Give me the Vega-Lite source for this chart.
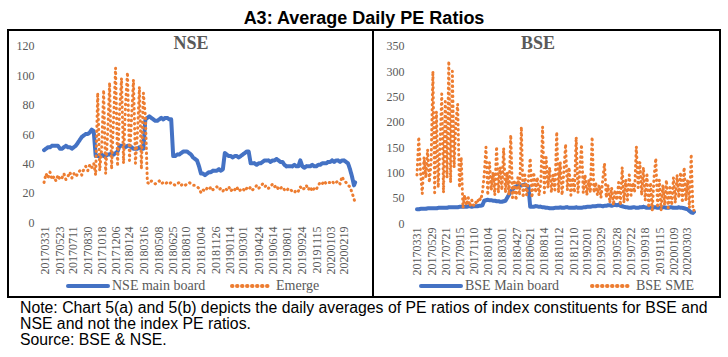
{
"$schema": "https://vega.github.io/schema/vega-lite/v6.json",
"padding": {"left": 7, "top": 7, "right": 0, "bottom": 0},
"background": "white",
"datasets": {"pe": [
{"d":"2017-03-31","NSE main board":49,"Emerge":27,"BSE Main board":27,"BSE SME":95},
{"d":"2017-04-07","NSE main board":50,"Emerge":33,"BSE Main board":27,"BSE SME":170},
{"d":"2017-04-14","NSE main board":51,"Emerge":30,"BSE Main board":28,"BSE SME":100},
{"d":"2017-04-21","NSE main board":51,"Emerge":34,"BSE Main board":28,"BSE SME":58},
{"d":"2017-04-28","NSE main board":52,"Emerge":29,"BSE Main board":28,"BSE SME":130},
{"d":"2017-05-05","NSE main board":52,"Emerge":31,"BSE Main board":28,"BSE SME":90},
{"d":"2017-05-12","NSE main board":52,"Emerge":28,"BSE Main board":29,"BSE SME":145},
{"d":"2017-05-19","NSE main board":52,"Emerge":32,"BSE Main board":29,"BSE SME":80},
{"d":"2017-05-26","NSE main board":50,"Emerge":29,"BSE Main board":29,"BSE SME":120},
{"d":"2017-06-02","NSE main board":50,"Emerge":30,"BSE Main board":29,"BSE SME":300},
{"d":"2017-06-09","NSE main board":51,"Emerge":33,"BSE Main board":29,"BSE SME":60},
{"d":"2017-06-16","NSE main board":52,"Emerge":29,"BSE Main board":29,"BSE SME":220},
{"d":"2017-06-23","NSE main board":51,"Emerge":31,"BSE Main board":30,"BSE SME":70},
{"d":"2017-06-30","NSE main board":51,"Emerge":34,"BSE Main board":30,"BSE SME":150},
{"d":"2017-07-07","NSE main board":50,"Emerge":30,"BSE Main board":30,"BSE SME":255},
{"d":"2017-07-14","NSE main board":51,"Emerge":33,"BSE Main board":30,"BSE SME":60},
{"d":"2017-07-21","NSE main board":52,"Emerge":31,"BSE Main board":30,"BSE SME":240},
{"d":"2017-07-28","NSE main board":54,"Emerge":33,"BSE Main board":30,"BSE SME":90},
{"d":"2017-08-04","NSE main board":56,"Emerge":35,"BSE Main board":31,"BSE SME":320},
{"d":"2017-08-11","NSE main board":58,"Emerge":32,"BSE Main board":31,"BSE SME":80},
{"d":"2017-08-18","NSE main board":59,"Emerge":36,"BSE Main board":31,"BSE SME":300},
{"d":"2017-08-25","NSE main board":60,"Emerge":38,"BSE Main board":31,"BSE SME":110},
{"d":"2017-09-01","NSE main board":60,"Emerge":35,"BSE Main board":31,"BSE SME":200},
{"d":"2017-09-08","NSE main board":61,"Emerge":39,"BSE Main board":31,"BSE SME":235},
{"d":"2017-09-15","NSE main board":63,"Emerge":37,"BSE Main board":32,"BSE SME":70},
{"d":"2017-09-22","NSE main board":62,"Emerge":40,"BSE Main board":32,"BSE SME":130},
{"d":"2017-09-29","NSE main board":45,"Emerge":32,"BSE Main board":32,"BSE SME":30},
{"d":"2017-10-06","NSE main board":45,"Emerge":88,"BSE Main board":32,"BSE SME":55},
{"d":"2017-10-13","NSE main board":45,"Emerge":35,"BSE Main board":32,"BSE SME":35},
{"d":"2017-10-20","NSE main board":46,"Emerge":50,"BSE Main board":33,"BSE SME":50},
{"d":"2017-10-27","NSE main board":45,"Emerge":90,"BSE Main board":33,"BSE SME":33},
{"d":"2017-11-03","NSE main board":45,"Emerge":33,"BSE Main board":32,"BSE SME":45},
{"d":"2017-11-10","NSE main board":46,"Emerge":60,"BSE Main board":33,"BSE SME":35},
{"d":"2017-11-17","NSE main board":46,"Emerge":95,"BSE Main board":33,"BSE SME":42},
{"d":"2017-11-24","NSE main board":47,"Emerge":36,"BSE Main board":33,"BSE SME":38},
{"d":"2017-12-01","NSE main board":46,"Emerge":70,"BSE Main board":34,"BSE SME":50},
{"d":"2017-12-08","NSE main board":47,"Emerge":105,"BSE Main board":34,"BSE SME":45},
{"d":"2017-12-15","NSE main board":48,"Emerge":38,"BSE Main board":35,"BSE SME":60},
{"d":"2017-12-22","NSE main board":52,"Emerge":75,"BSE Main board":44,"BSE SME":95},
{"d":"2017-12-29","NSE main board":52,"Emerge":98,"BSE Main board":45,"BSE SME":150},
{"d":"2018-01-05","NSE main board":52,"Emerge":40,"BSE Main board":46,"BSE SME":55},
{"d":"2018-01-12","NSE main board":51,"Emerge":80,"BSE Main board":45,"BSE SME":120},
{"d":"2018-01-19","NSE main board":52,"Emerge":102,"BSE Main board":45,"BSE SME":65},
{"d":"2018-01-26","NSE main board":52,"Emerge":42,"BSE Main board":44,"BSE SME":100},
{"d":"2018-02-02","NSE main board":51,"Emerge":70,"BSE Main board":44,"BSE SME":55},
{"d":"2018-02-09","NSE main board":50,"Emerge":97,"BSE Main board":43,"BSE SME":151},
{"d":"2018-02-16","NSE main board":50,"Emerge":40,"BSE Main board":43,"BSE SME":60},
{"d":"2018-02-23","NSE main board":50,"Emerge":60,"BSE Main board":42,"BSE SME":110},
{"d":"2018-03-02","NSE main board":51,"Emerge":92,"BSE Main board":42,"BSE SME":65},
{"d":"2018-03-09","NSE main board":50,"Emerge":36,"BSE Main board":43,"BSE SME":148},
{"d":"2018-03-16","NSE main board":50,"Emerge":88,"BSE Main board":44,"BSE SME":60},
{"d":"2018-03-23","NSE main board":70,"Emerge":72,"BSE Main board":50,"BSE SME":100},
{"d":"2018-03-30","NSE main board":71,"Emerge":27,"BSE Main board":56,"BSE SME":55},
{"d":"2018-04-06","NSE main board":72,"Emerge":26,"BSE Main board":62,"BSE SME":174},
{"d":"2018-04-13","NSE main board":71,"Emerge":28,"BSE Main board":66,"BSE SME":50},
{"d":"2018-04-20","NSE main board":70,"Emerge":27,"BSE Main board":70,"BSE SME":85},
{"d":"2018-04-27","NSE main board":69,"Emerge":26,"BSE Main board":72,"BSE SME":45},
{"d":"2018-05-04","NSE main board":69,"Emerge":27,"BSE Main board":74,"BSE SME":90},
{"d":"2018-05-11","NSE main board":70,"Emerge":28,"BSE Main board":75,"BSE SME":55},
{"d":"2018-05-18","NSE main board":71,"Emerge":26,"BSE Main board":74,"BSE SME":190},
{"d":"2018-05-25","NSE main board":70,"Emerge":27,"BSE Main board":75,"BSE SME":50},
{"d":"2018-06-01","NSE main board":71,"Emerge":26,"BSE Main board":76,"BSE SME":95},
{"d":"2018-06-08","NSE main board":71,"Emerge":27,"BSE Main board":74,"BSE SME":55},
{"d":"2018-06-15","NSE main board":70,"Emerge":26,"BSE Main board":73,"BSE SME":85},
{"d":"2018-06-22","NSE main board":70,"Emerge":27,"BSE Main board":32,"BSE SME":128},
{"d":"2018-06-29","NSE main board":45,"Emerge":26,"BSE Main board":32,"BSE SME":50},
{"d":"2018-07-06","NSE main board":45,"Emerge":25,"BSE Main board":32,"BSE SME":100},
{"d":"2018-07-13","NSE main board":46,"Emerge":26,"BSE Main board":33,"BSE SME":60},
{"d":"2018-07-20","NSE main board":46,"Emerge":27,"BSE Main board":33,"BSE SME":90},
{"d":"2018-07-27","NSE main board":47,"Emerge":25,"BSE Main board":32,"BSE SME":55},
{"d":"2018-08-03","NSE main board":48,"Emerge":26,"BSE Main board":32,"BSE SME":80},
{"d":"2018-08-10","NSE main board":48,"Emerge":25,"BSE Main board":31,"BSE SME":190},
{"d":"2018-08-17","NSE main board":48,"Emerge":26,"BSE Main board":31,"BSE SME":60},
{"d":"2018-08-24","NSE main board":47,"Emerge":27,"BSE Main board":30,"BSE SME":130},
{"d":"2018-08-31","NSE main board":46,"Emerge":26,"BSE Main board":30,"BSE SME":70},
{"d":"2018-09-07","NSE main board":44,"Emerge":25,"BSE Main board":29,"BSE SME":110},
{"d":"2018-09-14","NSE main board":43,"Emerge":25,"BSE Main board":29,"BSE SME":60},
{"d":"2018-09-21","NSE main board":42,"Emerge":24,"BSE Main board":29,"BSE SME":95},
{"d":"2018-09-28","NSE main board":38,"Emerge":23,"BSE Main board":30,"BSE SME":65},
{"d":"2018-10-05","NSE main board":33,"Emerge":20,"BSE Main board":30,"BSE SME":180},
{"d":"2018-10-12","NSE main board":33,"Emerge":22,"BSE Main board":30,"BSE SME":60},
{"d":"2018-10-19","NSE main board":32,"Emerge":21,"BSE Main board":31,"BSE SME":120},
{"d":"2018-10-26","NSE main board":33,"Emerge":23,"BSE Main board":30,"BSE SME":55},
{"d":"2018-11-02","NSE main board":34,"Emerge":22,"BSE Main board":30,"BSE SME":100},
{"d":"2018-11-09","NSE main board":34,"Emerge":24,"BSE Main board":31,"BSE SME":156},
{"d":"2018-11-16","NSE main board":35,"Emerge":22,"BSE Main board":31,"BSE SME":65},
{"d":"2018-11-23","NSE main board":35,"Emerge":23,"BSE Main board":30,"BSE SME":110},
{"d":"2018-11-30","NSE main board":35,"Emerge":24,"BSE Main board":30,"BSE SME":55},
{"d":"2018-12-07","NSE main board":36,"Emerge":22,"BSE Main board":30,"BSE SME":90},
{"d":"2018-12-14","NSE main board":35,"Emerge":23,"BSE Main board":30,"BSE SME":60},
{"d":"2018-12-21","NSE main board":36,"Emerge":21,"BSE Main board":31,"BSE SME":170},
{"d":"2018-12-28","NSE main board":47,"Emerge":23,"BSE Main board":30,"BSE SME":60},
{"d":"2019-01-04","NSE main board":46,"Emerge":22,"BSE Main board":30,"BSE SME":100},
{"d":"2019-01-11","NSE main board":45,"Emerge":24,"BSE Main board":30,"BSE SME":155},
{"d":"2019-01-18","NSE main board":45,"Emerge":21,"BSE Main board":31,"BSE SME":60},
{"d":"2019-01-25","NSE main board":44,"Emerge":23,"BSE Main board":31,"BSE SME":95},
{"d":"2019-02-01","NSE main board":45,"Emerge":22,"BSE Main board":32,"BSE SME":55},
{"d":"2019-02-08","NSE main board":45,"Emerge":24,"BSE Main board":32,"BSE SME":85},
{"d":"2019-02-15","NSE main board":44,"Emerge":21,"BSE Main board":32,"BSE SME":60},
{"d":"2019-02-22","NSE main board":45,"Emerge":22,"BSE Main board":33,"BSE SME":170},
{"d":"2019-03-01","NSE main board":46,"Emerge":23,"BSE Main board":33,"BSE SME":60},
{"d":"2019-03-08","NSE main board":47,"Emerge":21,"BSE Main board":33,"BSE SME":80},
{"d":"2019-03-15","NSE main board":48,"Emerge":23,"BSE Main board":34,"BSE SME":55},
{"d":"2019-03-22","NSE main board":48,"Emerge":22,"BSE Main board":34,"BSE SME":75},
{"d":"2019-03-29","NSE main board":40,"Emerge":24,"BSE Main board":34,"BSE SME":50},
{"d":"2019-04-05","NSE main board":40,"Emerge":22,"BSE Main board":33,"BSE SME":85},
{"d":"2019-04-12","NSE main board":40,"Emerge":23,"BSE Main board":34,"BSE SME":118},
{"d":"2019-04-19","NSE main board":39,"Emerge":25,"BSE Main board":34,"BSE SME":50},
{"d":"2019-04-26","NSE main board":40,"Emerge":23,"BSE Main board":35,"BSE SME":75},
{"d":"2019-05-03","NSE main board":40,"Emerge":24,"BSE Main board":35,"BSE SME":40},
{"d":"2019-05-10","NSE main board":41,"Emerge":26,"BSE Main board":34,"BSE SME":70},
{"d":"2019-05-17","NSE main board":42,"Emerge":24,"BSE Main board":35,"BSE SME":35},
{"d":"2019-05-24","NSE main board":42,"Emerge":25,"BSE Main board":36,"BSE SME":65},
{"d":"2019-05-31","NSE main board":42,"Emerge":23,"BSE Main board":35,"BSE SME":45},
{"d":"2019-06-07","NSE main board":41,"Emerge":24,"BSE Main board":36,"BSE SME":80},
{"d":"2019-06-14","NSE main board":42,"Emerge":26,"BSE Main board":34,"BSE SME":35},
{"d":"2019-06-21","NSE main board":42,"Emerge":24,"BSE Main board":33,"BSE SME":110},
{"d":"2019-06-28","NSE main board":43,"Emerge":25,"BSE Main board":32,"BSE SME":40},
{"d":"2019-07-05","NSE main board":42,"Emerge":22,"BSE Main board":31,"BSE SME":85},
{"d":"2019-07-12","NSE main board":41,"Emerge":23,"BSE Main board":31,"BSE SME":45},
{"d":"2019-07-19","NSE main board":41,"Emerge":24,"BSE Main board":30,"BSE SME":95},
{"d":"2019-07-26","NSE main board":39,"Emerge":22,"BSE Main board":30,"BSE SME":55},
{"d":"2019-08-02","NSE main board":38,"Emerge":21,"BSE Main board":31,"BSE SME":80},
{"d":"2019-08-09","NSE main board":38,"Emerge":23,"BSE Main board":31,"BSE SME":60},
{"d":"2019-08-16","NSE main board":38,"Emerge":22,"BSE Main board":30,"BSE SME":151},
{"d":"2019-08-23","NSE main board":38,"Emerge":21,"BSE Main board":30,"BSE SME":70},
{"d":"2019-08-30","NSE main board":39,"Emerge":20,"BSE Main board":31,"BSE SME":120},
{"d":"2019-09-06","NSE main board":38,"Emerge":22,"BSE Main board":31,"BSE SME":55},
{"d":"2019-09-13","NSE main board":38,"Emerge":21,"BSE Main board":32,"BSE SME":110},
{"d":"2019-09-20","NSE main board":42,"Emerge":24,"BSE Main board":31,"BSE SME":45},
{"d":"2019-09-27","NSE main board":38,"Emerge":22,"BSE Main board":30,"BSE SME":95},
{"d":"2019-10-04","NSE main board":37,"Emerge":23,"BSE Main board":30,"BSE SME":30},
{"d":"2019-10-11","NSE main board":38,"Emerge":25,"BSE Main board":30,"BSE SME":80},
{"d":"2019-10-18","NSE main board":38,"Emerge":22,"BSE Main board":30,"BSE SME":25},
{"d":"2019-10-25","NSE main board":38,"Emerge":24,"BSE Main board":31,"BSE SME":90},
{"d":"2019-11-01","NSE main board":39,"Emerge":21,"BSE Main board":31,"BSE SME":128},
{"d":"2019-11-08","NSE main board":38,"Emerge":23,"BSE Main board":30,"BSE SME":30},
{"d":"2019-11-15","NSE main board":38,"Emerge":22,"BSE Main board":30,"BSE SME":85},
{"d":"2019-11-22","NSE main board":39,"Emerge":25,"BSE Main board":30,"BSE SME":25},
{"d":"2019-11-29","NSE main board":39,"Emerge":27,"BSE Main board":31,"BSE SME":75},
{"d":"2019-12-06","NSE main board":40,"Emerge":26,"BSE Main board":31,"BSE SME":35},
{"d":"2019-12-13","NSE main board":40,"Emerge":28,"BSE Main board":30,"BSE SME":85},
{"d":"2019-12-20","NSE main board":40,"Emerge":26,"BSE Main board":30,"BSE SME":30},
{"d":"2019-12-27","NSE main board":41,"Emerge":27,"BSE Main board":31,"BSE SME":70},
{"d":"2020-01-03","NSE main board":41,"Emerge":27,"BSE Main board":31,"BSE SME":35},
{"d":"2020-01-10","NSE main board":42,"Emerge":28,"BSE Main board":30,"BSE SME":90},
{"d":"2020-01-17","NSE main board":41,"Emerge":26,"BSE Main board":30,"BSE SME":40},
{"d":"2020-01-24","NSE main board":42,"Emerge":27,"BSE Main board":30,"BSE SME":95},
{"d":"2020-01-31","NSE main board":42,"Emerge":28,"BSE Main board":31,"BSE SME":50},
{"d":"2020-02-07","NSE main board":41,"Emerge":26,"BSE Main board":30,"BSE SME":100},
{"d":"2020-02-14","NSE main board":42,"Emerge":31,"BSE Main board":30,"BSE SME":40},
{"d":"2020-02-21","NSE main board":42,"Emerge":28,"BSE Main board":29,"BSE SME":110},
{"d":"2020-02-28","NSE main board":41,"Emerge":27,"BSE Main board":28,"BSE SME":45},
{"d":"2020-03-06","NSE main board":40,"Emerge":25,"BSE Main board":27,"BSE SME":85},
{"d":"2020-03-13","NSE main board":36,"Emerge":24,"BSE Main board":24,"BSE SME":30},
{"d":"2020-03-20","NSE main board":31,"Emerge":20,"BSE Main board":21,"BSE SME":136},
{"d":"2020-03-27","NSE main board":25,"Emerge":16,"BSE Main board":20,"BSE SME":25},
{"d":"2020-03-31","NSE main board":27,"Emerge":13,"BSE Main board":22,"BSE SME":25}
]},
"title": {
  "text": ["Note: Chart 5(a) and 5(b) depicts the daily averages of PE ratios of index constituents for BSE and", "NSE and not the index PE ratios."],
  "subtitle": "Source: BSE & NSE.",
  "orient": "bottom", "anchor": "start", "frame": "group", "dx": 12, "offset": 3,
  "font": "Liberation Sans", "fontSize": 15.8, "fontWeight": "normal", "color": "#000000", "lineHeight": 16,
  "subtitleFont": "Liberation Sans", "subtitleFontSize": 15.8, "subtitleColor": "#000000", "subtitleLineHeight": 16, "subtitlePadding": 0
},
"spacing": 0,
"bounds": "flush",
"vconcat": [
  {
    "width": 712, "height": 23,
    "data": {"values": [{"t": "A3: Average Daily PE Ratios"}]},
    "mark": {"type": "text", "font": "Liberation Sans", "fontSize": 18, "fontWeight": "bold", "color": "#000000", "baseline": "middle"},
    "encoding": {"text": {"field": "t", "type": "nominal"}}
  },
  {
    "spacing": 0,
    "bounds": "flush",
    "resolve": {"scale": {"x": "independent", "y": "independent", "color": "independent", "strokeDash": "independent"}, "legend": {"color": "independent", "strokeDash": "independent"}},
    "hconcat": [
      {
        "width": 365, "height": 267,
        "data": {"name": "pe"},
        "encoding": {
          "x": {"field": "d", "type": "temporal",
                "scale": {"domain": [{"year": 2016, "month": 11, "date": 24}, {"year": 2020, "month": 6, "date": 2}]},
                "axis": {"title": null, "format": "%Y%m%d", "offset": -75,
                  "values": [{"year":2017,"month":3,"date":31},{"year":2017,"month":5,"date":23},{"year":2017,"month":7,"date":11},{"year":2017,"month":8,"date":30},{"year":2017,"month":10,"date":18},{"year":2017,"month":12,"date":6},{"year":2018,"month":1,"date":24},{"year":2018,"month":3,"date":16},{"year":2018,"month":5,"date":8},{"year":2018,"month":6,"date":25},{"year":2018,"month":8,"date":10},{"year":2018,"month":10,"date":4},{"year":2018,"month":11,"date":26},{"year":2019,"month":1,"date":14},{"year":2019,"month":3,"date":1},{"year":2019,"month":4,"date":24},{"year":2019,"month":6,"date":14},{"year":2019,"month":8,"date":1},{"year":2019,"month":9,"date":24},{"year":2019,"month":11,"date":15},{"year":2020,"month":1,"date":3},{"year":2020,"month":2,"date":19}]}},
          "y": {"field": "val", "type": "quantitative",
                "scale": {"domain": [-51.1, 130.9], "nice": false, "zero": false},
                "axis": {"title": null, "values": [0, 20, 40, 60, 80, 100, 120], "offset": -26}}
        },
        "layer": [
          {"mark": {"type": "rule", "color": "#D9D9D9", "strokeWidth": 1},
           "encoding": {"x": {"aggregate": "min", "field": "d", "type": "temporal"}, "x2": {"aggregate": "max", "field": "d"}, "y": {"datum": 0}}},
          {"data": {"values": [{"t": "NSE", "d": "2018-08-31", "val": 121.4}]},
           "mark": {"type": "text", "font": "Liberation Serif", "fontSize": 18, "fontWeight": "bold", "color": "#595959", "baseline": "middle", "align": "center"},
           "encoding": {"text": {"field": "t", "type": "nominal"}}},
          {"transform": [{"fold": ["NSE main board", "Emerge"], "as": ["series", "val"]}, {"filter": "datum.series == 'NSE main board'"}],
           "mark": {"type": "line", "strokeWidth": 4, "strokeCap": "round", "strokeJoin": "round"},
           "encoding": {
             "color": {"field": "series", "type": "nominal", "scale": {"domain": ["NSE main board", "Emerge"], "range": ["#4472C4", "#ED7D31"]},
               "legend": {"title": null, "orient": "none", "legendX": 58, "legendY": 234, "direction": "horizontal", "columnPadding": 18, "encode": {"symbols": {"update": {"strokeCap": {"value": "round"}}}}}},
             "strokeDash": {"field": "series", "type": "nominal", "scale": {"domain": ["NSE main board", "Emerge"], "range": [[1, 0], [0.5, 4.5]]},
               "legend": {"title": null, "orient": "none", "legendX": 58, "legendY": 234, "direction": "horizontal", "columnPadding": 18, "encode": {"symbols": {"update": {"strokeCap": {"value": "round"}}}}}}
           }},
          {"transform": [{"fold": ["NSE main board", "Emerge"], "as": ["series", "val"]}, {"filter": "datum.series == 'Emerge'"}],
           "mark": {"type": "line", "strokeWidth": 3, "strokeCap": "round", "strokeJoin": "round"},
           "encoding": {
             "color": {"field": "series", "type": "nominal"},
             "strokeDash": {"field": "series", "type": "nominal"}
           }}
        ]
      },
      {
        "width": 347, "height": 267,
        "data": {"name": "pe"},
        "encoding": {
          "x": {"field": "d", "type": "temporal",
                "scale": {"domain": [{"year": 2016, "month": 10, "date": 8}, {"year": 2020, "month": 7, "date": 12}]},
                "axis": {"title": null, "format": "%Y%m%d", "offset": -74,
                  "values": [{"year":2017,"month":3,"date":31},{"year":2017,"month":5,"date":29},{"year":2017,"month":7,"date":21},{"year":2017,"month":9,"date":15},{"year":2017,"month":11,"date":10},{"year":2018,"month":1,"date":4},{"year":2018,"month":3,"date":1},{"year":2018,"month":4,"date":27},{"year":2018,"month":6,"date":21},{"year":2018,"month":8,"date":14},{"year":2018,"month":10,"date":12},{"year":2018,"month":12,"date":10},{"year":2019,"month":2,"date":1},{"year":2019,"month":3,"date":29},{"year":2019,"month":5,"date":28},{"year":2019,"month":7,"date":22},{"year":2019,"month":9,"date":18},{"year":2019,"month":11,"date":15},{"year":2020,"month":1,"date":9},{"year":2020,"month":3,"date":3}]}},
          "y": {"field": "val", "type": "quantitative",
                "scale": {"domain": [-146.3, 381.6], "nice": false, "zero": false},
                "axis": {"title": null, "values": [0, 50, 100, 150, 200, 250, 300, 350], "offset": -31}}
        },
        "layer": [
          {"mark": {"type": "rule", "color": "#D9D9D9", "strokeWidth": 1},
           "encoding": {"x": {"aggregate": "min", "field": "d", "type": "temporal"}, "x2": {"aggregate": "max", "field": "d"}, "y": {"datum": 0}}},
          {"data": {"values": [{"t": "BSE", "d": "2018-07-23", "val": 353.9}]},
           "mark": {"type": "text", "font": "Liberation Serif", "fontSize": 18, "fontWeight": "bold", "color": "#595959", "baseline": "middle", "align": "center"},
           "encoding": {"text": {"field": "t", "type": "nominal"}}},
          {"transform": [{"fold": ["BSE Main board", "BSE SME"], "as": ["series", "val"]}, {"filter": "datum.series == 'BSE Main board'"}],
           "mark": {"type": "line", "strokeWidth": 4, "strokeCap": "round", "strokeJoin": "round"},
           "encoding": {
             "color": {"field": "series", "type": "nominal", "scale": {"domain": ["BSE Main board", "BSE SME"], "range": ["#4472C4", "#ED7D31"]},
               "legend": {"title": null, "orient": "none", "legendX": 46, "legendY": 234, "direction": "horizontal", "columnPadding": 24, "encode": {"symbols": {"update": {"strokeCap": {"value": "round"}}}}}},
             "strokeDash": {"field": "series", "type": "nominal", "scale": {"domain": ["BSE Main board", "BSE SME"], "range": [[1, 0], [0.5, 4.5]]},
               "legend": {"title": null, "orient": "none", "legendX": 46, "legendY": 234, "direction": "horizontal", "columnPadding": 24, "encode": {"symbols": {"update": {"strokeCap": {"value": "round"}}}}}}
           }},
          {"transform": [{"fold": ["BSE Main board", "BSE SME"], "as": ["series", "val"]}, {"filter": "datum.series == 'BSE SME'"}],
           "mark": {"type": "line", "strokeWidth": 3, "strokeCap": "round", "strokeJoin": "round"},
           "encoding": {
             "color": {"field": "series", "type": "nominal"},
             "strokeDash": {"field": "series", "type": "nominal"}
           }}
        ]
      }
    ]
  }
],
"config": {
  "view": {"stroke": "#000000", "strokeWidth": 2},
  "axis": {"labelFont": "Liberation Serif", "labelFontSize": 12, "labelColor": "#595959", "domain": false, "ticks": false, "grid": false},
  "axisX": {"labelAngle": -90, "labelOverlap": false, "labelFlush": false, "labelBound": false, "labelPadding": 4},
  "axisY": {"labelPadding": 0, "labelOverlap": false},
  "legend": {"symbolType": "stroke", "symbolSize": 1600, "symbolStrokeWidth": 4, "labelFont": "Liberation Serif", "labelFontSize": 14, "labelColor": "#595959", "labelOffset": 2, "padding": 0}
}
}
